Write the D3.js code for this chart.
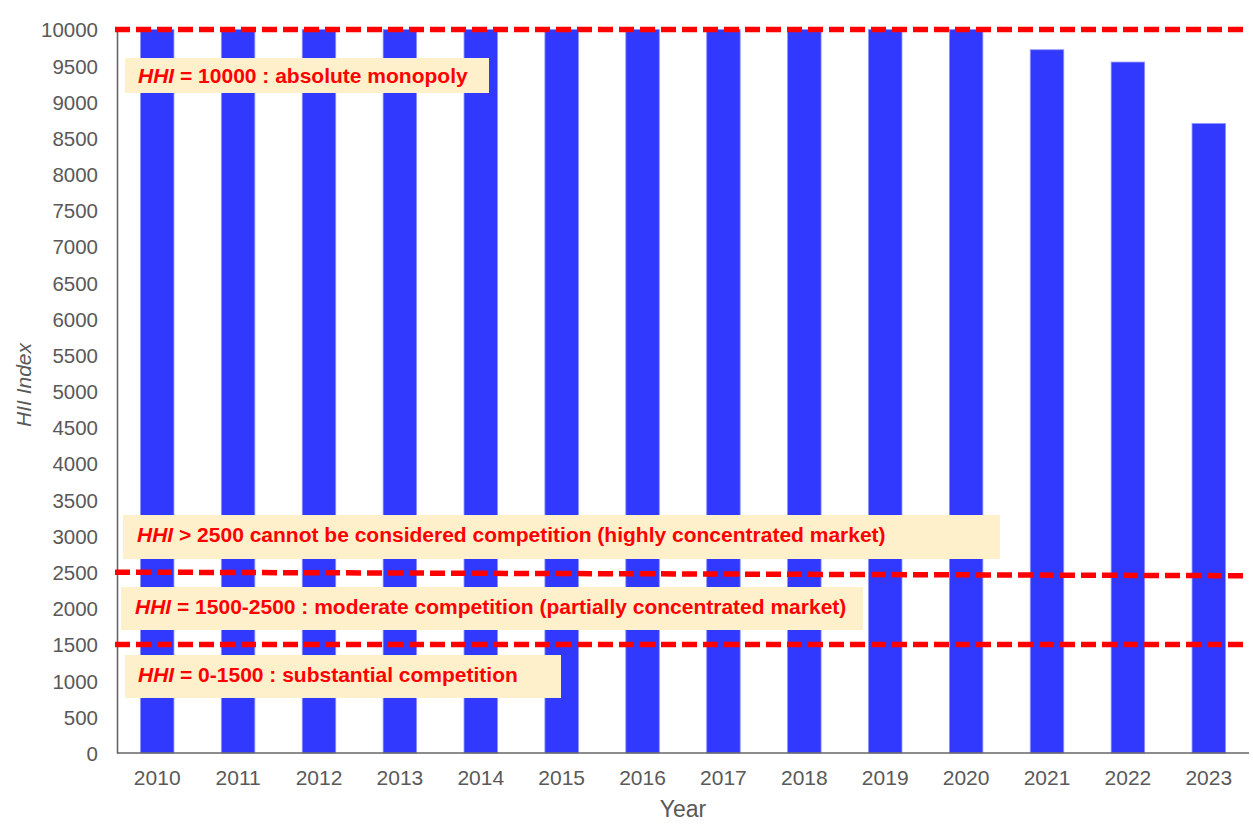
<!DOCTYPE html>
<html>
<head>
<meta charset="utf-8">
<script src="https://cdn.jsdelivr.net/npm/d3@7"></script>
<style>
  html, body { margin: 0; padding: 0; background: #ffffff; }
  svg { display: block; font-family: "Liberation Sans", Arial, Helvetica, sans-serif; }
</style>
</head>
<body>
<svg id="chart" width="1253" height="836"></svg>
<script>
// Herfindahl–Hirschman index by year
const years = ["2010","2011","2012","2013","2014","2015","2016","2017","2018","2019","2020","2021","2022","2023"];
const hhiValues = [10000,10000,10000,10000,10000,10000,10000,10000,10000,10000,10000,9720,9550,8700];

// Y-axis tick values
const yTicks = [0,500,1000,1500,2000,2500,3000,3500,4000,4500,5000,5500,6000,6500,7000,7500,8000,8500,9000,9500,10000];

// Reference thresholds (left value, right value) drawn as dashed lines
const thresholdStart = [10000, 2500, 1500];
const thresholdEnd   = [10000, 2450, 1500];

// Annotation texts: italic prefix + plain remainder
const notePrefix = ["HHI", "HHI", "HHI", "HHI"];
const noteText = [
  " = 10000 : absolute monopoly",
  " > 2500 cannot be considered competition (highly concentrated market)",
  " = 1500-2500 : moderate competition (partially concentrated market)",
  " = 0-1500 : substantial competition"
];

// Layout of annotation boxes (pixels)
const noteBoxes = [
  { x: 125, y: 58,  w: 364, h: 35, tx: 138, ty: 83 },
  { x: 123, y: 515, w: 877, h: 44, tx: 137, ty: 542 },
  { x: 121, y: 587, w: 742, h: 43, tx: 135, ty: 614 },
  { x: 125, y: 655, w: 436, h: 43, tx: 138, ty: 682 }
];

const svg = d3.select("#chart");
const plot = { left: 117, right: 1249, top: 29.5, bottom: 753 };

const x = d3.scaleBand()
  .domain(years)
  .range([plot.left, plot.right])
  .paddingInner(0.586)
  .paddingOuter(0.29);

const y = d3.scaleLinear()
  .domain([0, 10000])
  .range([plot.bottom, plot.top]);

// Bars
svg.append("g")
  .selectAll("rect")
  .data(years.map((yr, i) => ({ yr, v: hhiValues[i] })))
  .join("rect")
  .attr("x", d => x(d.yr))
  .attr("y", d => y(d.v))
  .attr("width", x.bandwidth())
  .attr("height", d => y(0) - y(d.v))
  .attr("fill", "#3239ff")
  .attr("stroke", "#8c93ff")
  .attr("stroke-width", 0.8);

// Axes
const axisColor = "#666666";
const yAxis = svg.append("g")
  .attr("transform", `translate(${plot.left},0)`)
  .call(d3.axisLeft(y).tickValues(yTicks).tickSize(0).tickPadding(19).tickFormat(d3.format("d")));
yAxis.select(".domain").attr("stroke", axisColor).attr("stroke-width", 1.6);
yAxis.selectAll("text")
  .attr("fill", "#595959")
  .style("font-size", "20.5px")
  .attr("dy", "0.36em");

const xAxis = svg.append("g")
  .attr("transform", `translate(0,${plot.bottom})`)
  .call(d3.axisBottom(x).tickSize(0).tickPadding(17));
xAxis.select(".domain")
  .attr("d", `M${plot.left},0H${plot.right}`)
  .attr("stroke", axisColor).attr("stroke-width", 1.6);
xAxis.selectAll("text")
  .attr("fill", "#595959")
  .style("font-size", "21px");

// Axis titles
svg.append("text")
  .attr("transform", `translate(31,385) rotate(-90)`)
  .attr("text-anchor", "middle")
  .attr("fill", "#595959")
  .style("font-size", "21px")
  .style("font-style", "italic")
  .text("HII Index");

svg.append("text")
  .attr("x", (plot.left + plot.right) / 2)
  .attr("y", 817)
  .attr("text-anchor", "middle")
  .attr("fill", "#595959")
  .style("font-size", "23px")
  .text("Year");

// Annotation boxes
const notes = svg.append("g")
  .selectAll("g")
  .data(noteBoxes.map((b, i) => ({ ...b, pre: notePrefix[i], txt: noteText[i] })))
  .join("g");

notes.append("rect")
  .attr("x", d => d.x).attr("y", d => d.y)
  .attr("width", d => d.w).attr("height", d => d.h)
  .attr("fill", "#fff0cc");

const t = notes.append("text")
  .attr("x", d => d.tx).attr("y", d => d.ty)
  .attr("fill", "#ff0000")
  .style("font-size", "21px")
  .style("font-weight", "bold");
t.append("tspan").style("font-style", "italic").text(d => d.pre);
t.append("tspan").text(d => d.txt);

// Threshold dashed lines
svg.append("g")
  .selectAll("line")
  .data(thresholdStart.map((v, i) => ({ v0: v, v1: thresholdEnd[i] })))
  .join("line")
  .attr("x1", 115)
  .attr("x2", 1244)
  .attr("y1", d => y(d.v0))
  .attr("y2", d => y(d.v1))
  .attr("stroke", "#ff0000")
  .attr("stroke-width", 5.5)
  .attr("stroke-dasharray", "15 6");
</script>
</body>
</html>
